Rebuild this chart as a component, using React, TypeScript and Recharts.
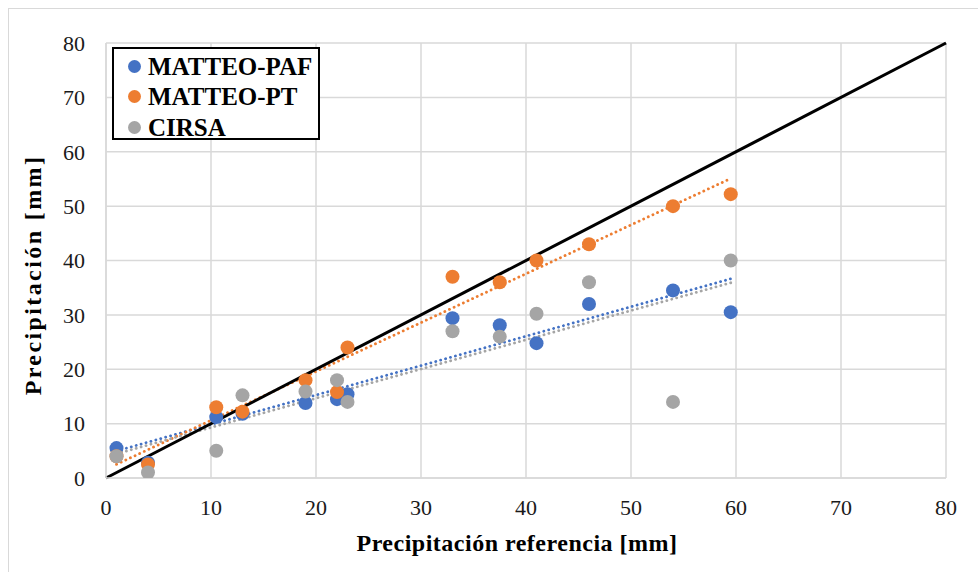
import React from "react";
import {
  ScatterChart,
  Scatter,
  XAxis,
  YAxis,
  CartesianGrid,
  ReferenceLine,
  Legend,
} from "recharts";

// Reference precipitation (x) shared by all series
const refPrecip = [1, 4, 10.5, 13, 19, 22, 23, 33, 37.5, 41, 46, 54, 59.5];
const matteoPaf = [5.5, 2.8, 11.2, 11.8, 13.8, 14.5, 15.4, 29.4, 28.1, 24.8, 32, 34.5, 30.5];
const matteoPt = [4, 2.5, 13, 12.2, 18, 15.8, 24, 37, 36, 40, 43, 50, 52.2];
const cirsa = [4, 1, 5, 15.2, 15.9, 18, 14, 27, 26, 30.2, 36, 14, 40];

const seriesNames = ["MATTEO-PAF", "MATTEO-PT", "CIRSA"];
const seriesColors = ["#4472C4", "#ED7D31", "#A5A5A5"];
const axisTicks = [0, 10, 20, 30, 40, 50, 60, 70, 80];
const xTitle = "Precipitación referencia [mm]";
const yTitle = "Precipitación [mm]";

const toPoints = (ys: number[]) => refPrecip.map((x, i) => ({ x, y: ys[i] }));

// least-squares linear trendline derived from the series (as Excel's trendline)
const trend = (ys: number[]) => {
  const n = refPrecip.length;
  const mx = refPrecip.reduce((a, b) => a + b, 0) / n;
  const my = ys.reduce((a, b) => a + b, 0) / n;
  let sxy = 0;
  let sxx = 0;
  for (let i = 0; i < n; i++) {
    sxy += (refPrecip[i] - mx) * (ys[i] - my);
    sxx += (refPrecip[i] - mx) ** 2;
  }
  const m = sxy / sxx;
  const b = my - m * mx;
  const x0 = Math.min(...refPrecip);
  const x1 = Math.max(...refPrecip);
  return [
    { x: x0, y: m * x0 + b },
    { x: x1, y: m * x1 + b },
  ];
};

const allSeries = [matteoPaf, matteoPt, cirsa];

const FONT = "'Liberation Serif', 'Times New Roman', serif";

const Dot = (color: string) => (props: any) =>
  <circle cx={props.cx} cy={props.cy} r={7} fill={color} />;

const LegendBox = () => (
  <div
    style={{
      border: "2px solid #000",
      background: "#fff",
      width: 204,
      height: 87,
      boxSizing: "content-box",
      fontFamily: FONT,
      fontWeight: "bold",
      fontSize: 25,
      color: "#000",
      paddingTop: 2,
    }}
  >
    {seriesNames.map((name, i) => (
      <div key={name} style={{ display: "flex", alignItems: "center", height: 30.5 }}>
        <span
          style={{
            display: "inline-block",
            width: 13,
            height: 13,
            borderRadius: "50%",
            background: seriesColors[i],
            marginLeft: 14,
            marginRight: 7,
          }}
        />
        <span style={{ lineHeight: "25px" }}>{name}</span>
      </div>
    ))}
  </div>
);

export default function App() {
  return (
    <div
      style={{
        position: "absolute",
        left: 0,
        top: 0,
        width: 978,
        height: 572,
        overflow: "hidden",
        background: "#fff",
      }}
    >
      <div
        style={{
          position: "absolute",
          left: 8,
          top: 8,
          width: 990,
          height: 590,
          border: "1.5px solid #d9d9d9",
        }}
      />
      <div style={{ position: "absolute", left: 0, top: 0 }}>
        <ScatterChart
          width={978}
          height={572}
          margin={{ top: 43, right: 32, bottom: 0, left: 0 }}
        >
          <CartesianGrid stroke="#d9d9d9" strokeWidth={1.5} />
          <XAxis
            type="number"
            dataKey="x"
            domain={[0, 80]}
            ticks={axisTicks}
            interval={0}
            allowDataOverflow
            height={94}
            tickSize={0}
            tickMargin={21}
            axisLine={{ stroke: "#d9d9d9", strokeWidth: 1.5 }}
            tick={{ fontFamily: FONT, fontSize: 22, fill: "#1a1a1a" }}
            label={{
              content: (p: any) => {
                const vb = p.viewBox || { x: 106, y: 478, width: 840 };
                return (
                  <text
                    x={vb.x + vb.width / 2 - 9}
                    y={551}
                    textAnchor="middle"
                    fontFamily={FONT}
                    fontWeight="bold"
                    fontSize={24}
                    fill="#000"
                    letterSpacing={0.5}
                  >
                    {xTitle}
                  </text>
                );
              },
            }}
          />
          <YAxis
            type="number"
            dataKey="y"
            domain={[0, 80]}
            ticks={axisTicks}
            interval={0}
            allowDataOverflow
            width={106}
            tickSize={0}
            tickMargin={21}
            axisLine={{ stroke: "#d9d9d9", strokeWidth: 1.5 }}
            tick={{ fontFamily: FONT, fontSize: 22, fill: "#1a1a1a" }}
            label={{
              content: () => (
                <text
                  x={33}
                  y={275}
                  transform="rotate(-90 33 275)"
                  textAnchor="middle"
                  dominantBaseline="central"
                  fontFamily={FONT}
                  fontWeight="bold"
                  fontSize={24}
                  fill="#000"
                  letterSpacing={2.4}
                >
                  {yTitle}
                </text>
              ),
            }}
          />
          {allSeries.map((ys, i) => (
            <Scatter
              key={seriesNames[i]}
              name={seriesNames[i]}
              data={toPoints(ys)}
              fill={seriesColors[i]}
              shape={Dot(seriesColors[i])}
              isAnimationActive={false}
            />
          ))}
          {allSeries.map((ys, i) => (
            <ReferenceLine
              key={"t" + i}
              segment={trend(ys)}
              stroke={seriesColors[i]}
              strokeWidth={2.8}
              strokeLinecap="round"
              strokeDasharray="0.1 5"
            />
          ))}
          <ReferenceLine
            segment={[
              { x: 0, y: 0 },
              { x: 80, y: 80 },
            ]}
            stroke="#000"
            strokeWidth={3}
          />
          <Legend
            layout="vertical"
            align="center"
            verticalAlign="middle"
            wrapperStyle={{ position: "absolute", left: 112, top: 47, width: 208 }}
            content={() => <LegendBox />}
          />
        </ScatterChart>
      </div>
    </div>
  );
}
